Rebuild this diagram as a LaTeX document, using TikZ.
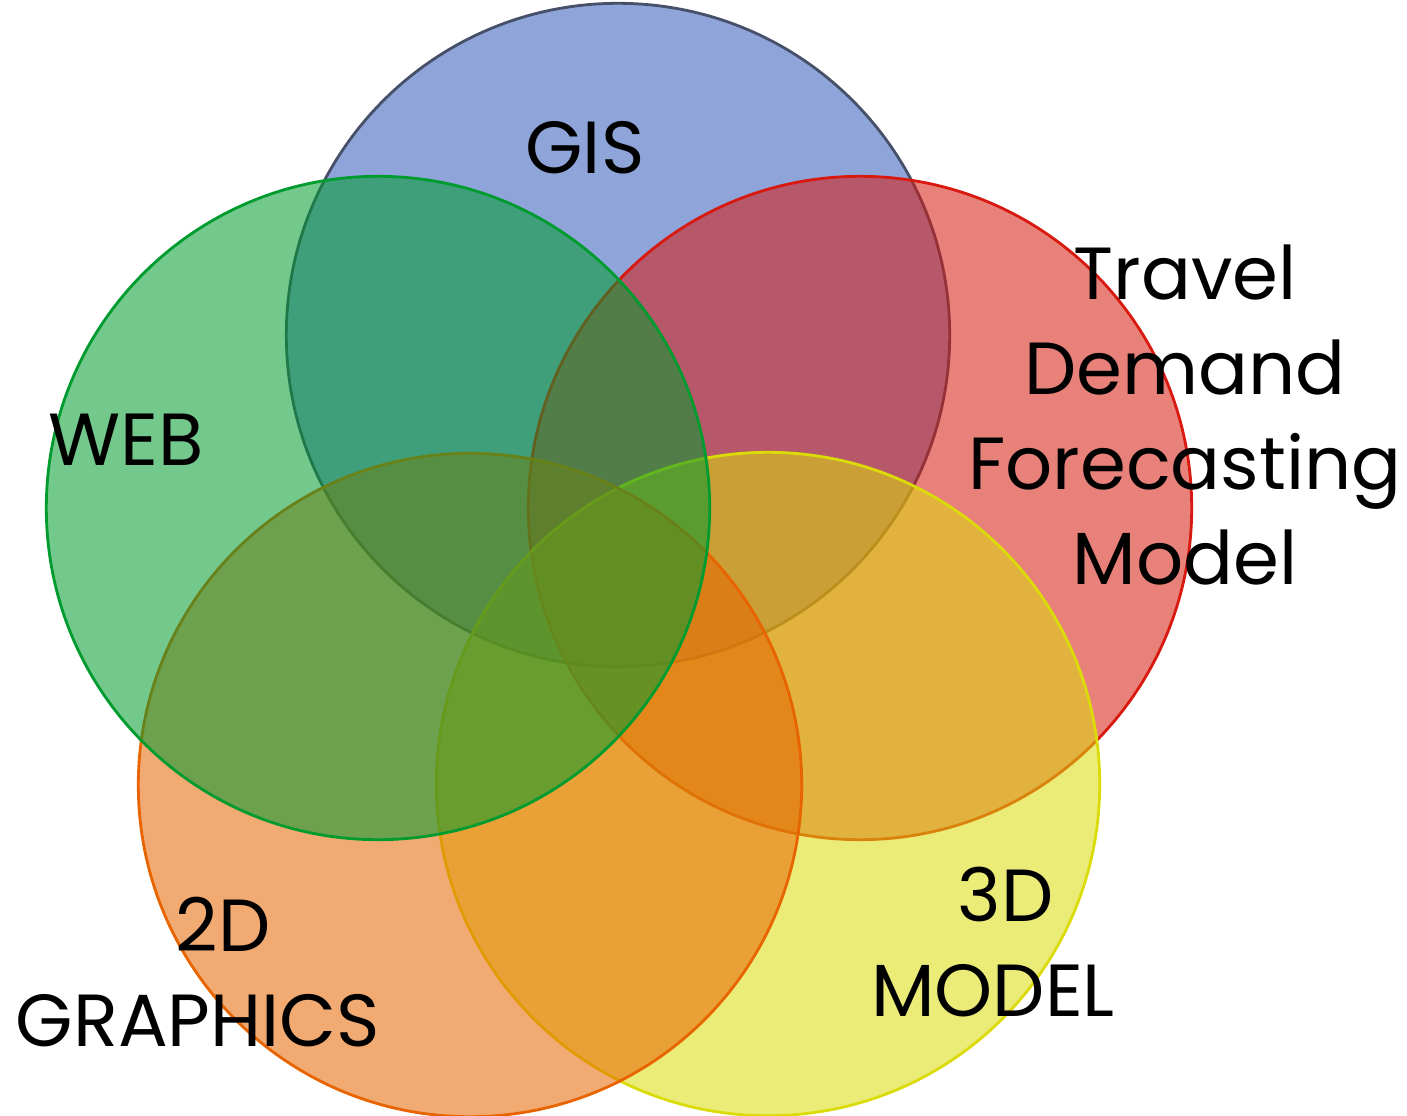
\documentclass[tikz,border=0pt]{standalone}
\usepackage{fontspec}
\setmainfont{Poppins}
\definecolor{gisblue}{RGB}{51,90,186}
\definecolor{gisedge}{RGB}{70,80,105}
\definecolor{tdfred}{RGB}{215,25,15}
\definecolor{webgreen}{RGB}{0,155,46}
\definecolor{twodorange}{RGB}{231,100,0}
\definecolor{threedyellow}{RGB}{219,219,10}
\begin{document}
\begin{tikzpicture}[x=0.01cm, y=-0.01cm,
		set/.style={circle, minimum size=6.63cm, inner sep=0pt, line width=0.8pt, fill opacity=0.55},
		lbl/.style={font=\fontsize{21}{27}\selectfont, align=center, text=black}
		]
	\useasboundingbox (0,0) rectangle (1407,1115);
	% the five sets
	\node [set, draw=gisedge, fill=gisblue] (gis) at (618,335) {};
	\node [set, draw=tdfred, fill=tdfred] (tdf) at (860,508) {};
	\node [set, draw=threedyellow, fill=threedyellow] (threed) at (768,784) {};
	\node [set, draw=twodorange, fill=twodorange] (twod) at (470,785) {};
	\node [set, draw=webgreen, fill=webgreen] (web) at (378,508) {};
	% labels
	\node [lbl] (gislbl) at (585,148) {GIS};
	\node [lbl] (weblbl) at (126,440) {WEB};
	\node [lbl] (tdflbl) at (1185,415) {Travel\\Demand\\Forecasting\\Model};
	\node [lbl] (twodlbl) at (198,972) {\hspace*{0.5cm}2D\\GRAPHICS};
	\node [lbl] (threedlbl) at (993,942) {\hspace*{0.25cm}3D\\MODEL};
\end{tikzpicture}
\end{document}
